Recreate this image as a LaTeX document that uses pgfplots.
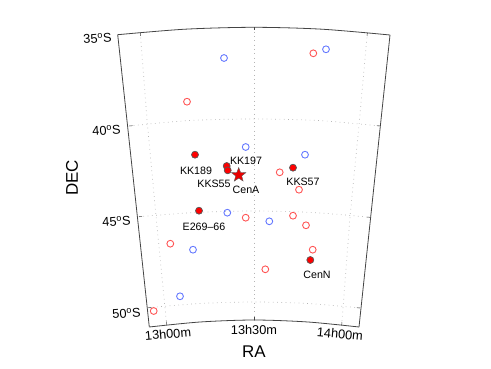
\documentclass[border=0pt]{standalone}
\usepackage{fontspec}
\setmainfont{Liberation Sans}
\usepackage{pgfplots}
\pgfplotsset{compat=1.18}
\usetikzlibrary{plotmarks}
\definecolor{oblue}{HTML}{6478FF}
\definecolor{ored}{HTML}{FF5555}
\definecolor{frame}{HTML}{444444}
\definecolor{gridc}{HTML}{B4B4B4}
\pgfdeclareplotmark{fstar}{%
  \pgfpathmoveto{\pgfqpointpolar{90}{\pgfplotmarksize}}%
  \pgfpathlineto{\pgfpointpolar{126}{0.42\pgfplotmarksize}}%
  \pgfpathlineto{\pgfpointpolar{162}{\pgfplotmarksize}}%
  \pgfpathlineto{\pgfpointpolar{198}{0.42\pgfplotmarksize}}%
  \pgfpathlineto{\pgfpointpolar{234}{\pgfplotmarksize}}%
  \pgfpathlineto{\pgfpointpolar{270}{0.42\pgfplotmarksize}}%
  \pgfpathlineto{\pgfpointpolar{306}{\pgfplotmarksize}}%
  \pgfpathlineto{\pgfpointpolar{342}{0.42\pgfplotmarksize}}%
  \pgfpathlineto{\pgfpointpolar{18}{\pgfplotmarksize}}%
  \pgfpathlineto{\pgfpointpolar{54}{0.42\pgfplotmarksize}}%
  \pgfpathclose\pgfusepathqfillstroke}
\pgfplotsset{
  gridline/.style={gridc, line width=0.7bp, dash pattern=on 0.7bp off 3.6bp},
}
\begin{document}
\begin{tikzpicture}
\begin{axis}[
  scale only axis, width=491bp, height=369bp,
  xmin=0, xmax=491, ymin=0, ymax=369, y dir=reverse,
  hide axis, clip=false,
  every node/.append style={text=black!85},
]
% bounding corners
\addplot[draw=none, forget plot] coordinates {(0,0) (491,369)};
% grid, 13h00 / 13h30 / 14h00
\addplot[gridline] coordinates {(140.3,33.3) (147.3,123) (155.7,213) (166.7,325)};
\addplot[gridline] coordinates {(254,27.5) (254,119) (254,211) (254,320)};
\addplot[gridline] coordinates {(367.3,33.3) (359,125) (350,216.7) (341.7,325)};
% grid, 40S / 45S / 50S
\addplot[gridline, smooth] coordinates {(129.3,126) (190,120.5) (254,119) (318,120.5) (380,126)};
\addplot[gridline, smooth] coordinates {(139,216.7) (195,212.5) (254,211) (313,212.5) (370,217.3)};
\addplot[gridline, smooth] coordinates {(148.3,307.7) (200,303.5) (254,302) (308,303.5) (360,308)};
% frame
\addplot[frame, line width=0.8bp] coordinates {(117.7,34.7) (149.3,327)};
\addplot[frame, line width=0.8bp] coordinates {(390,35) (359,327)};
\addplot[frame, line width=0.8bp, smooth] coordinates {(117.7,34.7) (185,29.2) (254,27.3) (322,29.2) (390,35)};
\addplot[frame, line width=0.8bp, smooth] coordinates {(149.3,327) (200,322) (254,320) (308,322) (359,327)};
% ticks
\addplot[frame, line width=0.5bp] coordinates {(140.3,33) (140.5,36)};
\addplot[frame, line width=0.5bp] coordinates {(254,27.3) (254,30.5)};
\addplot[frame, line width=0.5bp] coordinates {(367.3,33) (367.1,36)};
\addplot[frame, line width=0.5bp] coordinates {(166.7,324.6) (166.5,321.5)};
\addplot[frame, line width=0.5bp] coordinates {(254,320) (254,316.8)};
\addplot[frame, line width=0.5bp] coordinates {(341.7,325.2) (341.9,322)};
\addplot[frame, line width=0.5bp] coordinates {(129.3,126) (132.5,125.7)};
\addplot[frame, line width=0.5bp] coordinates {(139,216.7) (142.2,216.5)};
\addplot[frame, line width=0.5bp] coordinates {(148.3,307.7) (151.5,307.4)};
\addplot[frame, line width=0.5bp] coordinates {(380,126) (376.8,125.7)};
\addplot[frame, line width=0.5bp] coordinates {(370,217.3) (366.8,217)};
\addplot[frame, line width=0.5bp] coordinates {(360,308) (356.8,307.7)};
% open blue
\addplot[only marks, mark=o, mark size=3.4bp, oblue, mark options={line width=0.9bp}] coordinates {
 (224,58) (245.7,147) (326,49.3) (305,154.7) (227.3,212.7) (193,249.7) (180,296.3) (269.3,221.3)};
% open red
\addplot[only marks, mark=o, mark size=3.4bp, ored, mark options={line width=0.9bp}] coordinates {
 (187,101.7) (313.3,53.3) (279.7,172.3) (299,189.7) (245.7,217.7) (293,215.7) (306,225.3)
 (312.7,249.7) (265.3,269.3) (170.3,243.7) (153.7,311)};
% filled
\addplot[only marks, mark=*, mark size=3.5bp, mark options={draw=black!65, fill=red, line width=0.7bp}] coordinates {
 (195,154.7) (226.7,166) (227.7,170.3) (293,167.7) (199,210.7) (310.3,260)};
% Cen A
\addplot[only marks, mark=fstar, mark size=7.5bp, mark options={draw=black!65, fill=red!92!black, line width=0.4bp}] coordinates {(238.7,175)};
% dec labels
\node[font=\fontsize{12.8}{14}\selectfont, anchor=east, rotate=4] at (axis cs:115,37) {35$^{\mathrm{o}}$S};
\node[font=\fontsize{12.8}{14}\selectfont, anchor=east, rotate=4] at (axis cs:124,129) {40$^{\mathrm{o}}$S};
\node[font=\fontsize{12.8}{14}\selectfont, anchor=east, rotate=4] at (axis cs:134,220) {45$^{\mathrm{o}}$S};
\node[font=\fontsize{12.8}{14}\selectfont, anchor=east, rotate=4] at (axis cs:144,312) {50$^{\mathrm{o}}$S};
% ra labels
\node[font=\fontsize{12.8}{14}\selectfont, rotate=5] at (axis cs:168,334) {13h00m};
\node[font=\fontsize{12.8}{14}\selectfont] at (axis cs:254,330) {13h30m};
\node[font=\fontsize{12.8}{14}\selectfont, rotate=-5] at (axis cs:340,334) {14h00m};
% axis names
\node[font=\fontsize{17}{19}\selectfont] at (axis cs:254,352) {RA};
\node[font=\fontsize{17}{19}\selectfont, rotate=90] at (axis cs:72,178) {DEC};
% object names
\node[font=\fontsize{10.7}{12}\selectfont] at (axis cs:196,171) {KK189};
\node[font=\fontsize{10.7}{12}\selectfont] at (axis cs:246,161) {KK197};
\node[font=\fontsize{10.7}{12}\selectfont] at (axis cs:214,184) {KKS55};
\node[font=\fontsize{10.7}{12}\selectfont] at (axis cs:246,190) {CenA};
\node[font=\fontsize{10.7}{12}\selectfont] at (axis cs:303,182) {KKS57};
\node[font=\fontsize{10.7}{12}\selectfont] at (axis cs:204,227) {E269--66};
\node[font=\fontsize{10.7}{12}\selectfont] at (axis cs:317,275) {CenN};
\end{axis}
\end{tikzpicture}
\end{document}
